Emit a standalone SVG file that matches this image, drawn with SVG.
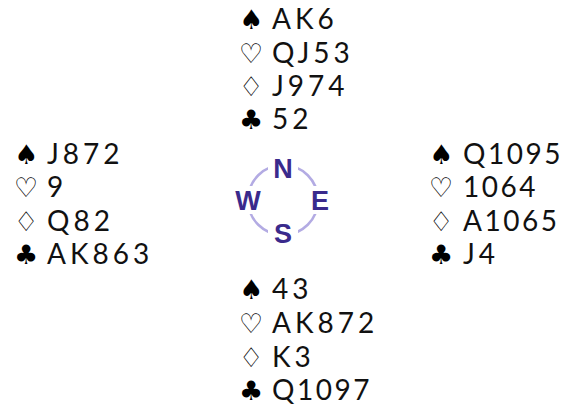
<svg xmlns="http://www.w3.org/2000/svg" width="568" height="408" viewBox="0 0 568 408">
<style>
.s{font-family:"DejaVu Sans",sans-serif;font-size:27px;fill:#000}
.t{font-family:"Lato","Liberation Sans",sans-serif;font-size:28px;letter-spacing:4px;fill:#111}
.n{letter-spacing:2.5px}
.c{font-family:"Liberation Sans",Arial,sans-serif;font-weight:bold;font-size:27px;fill:#3a2a8c;text-anchor:middle}
</style>
<rect width="568" height="408" fill="#fff"/>
<g id="north">
<text class="s" x="239" y="29">♠</text><text class="t" x="272" y="29">AK6</text>
<text class="s" x="239" y="63">♡</text><text class="t" x="272" y="63">QJ53</text>
<text class="s" x="239" y="96">♢</text><text class="t" x="272" y="96">J974</text>
<text class="s" x="239" y="129">♣</text><text class="t" x="272" y="129">52</text>
</g>
<g id="west">
<text class="s" x="14" y="164">♠</text><text class="t" x="47" y="164">J872</text>
<text class="s" x="14" y="197">♡</text><text class="t" x="47" y="197">9</text>
<text class="s" x="14" y="231">♢</text><text class="t" x="47" y="231">Q82</text>
<text class="s" x="14" y="264">♣</text><text class="t" x="47" y="264">AK863</text>
</g>
<g id="east">
<text class="s" x="429" y="164">♠</text><text class="t n" x="463" y="164">Q1095</text>
<text class="s" x="429" y="197">♡</text><text class="t n" x="463" y="197">1064</text>
<text class="s" x="429" y="231">♢</text><text class="t n" x="463" y="231">A1065</text>
<text class="s" x="429" y="264">♣</text><text class="t" x="463" y="264">J4</text>
</g>
<g id="south">
<text class="s" x="239" y="299">♠</text><text class="t" x="272" y="299">43</text>
<text class="s" x="239" y="333">♡</text><text class="t" x="272" y="333">AK872</text>
<text class="s" x="239" y="367">♢</text><text class="t" x="272" y="367">K3</text>
<text class="s" x="239" y="400">♣</text><text class="t n" x="272" y="400">Q1097</text>
</g>
<g id="compass">
<circle cx="283" cy="200" r="35" fill="none" stroke="#b3abe3" stroke-width="2.5"/>
<rect x="268" y="153" width="30" height="30" fill="#fff"/>
<rect x="268" y="218" width="30" height="30" fill="#fff"/>
<rect x="232" y="186" width="34" height="28" fill="#fff"/>
<rect x="304" y="186" width="30" height="28" fill="#fff"/>
<text class="c" x="283" y="178">N</text>
<text class="c" x="283" y="243">S</text>
<text class="c" x="248" y="210">W</text>
<text class="c" x="320" y="210">E</text>
</g>
</svg>
